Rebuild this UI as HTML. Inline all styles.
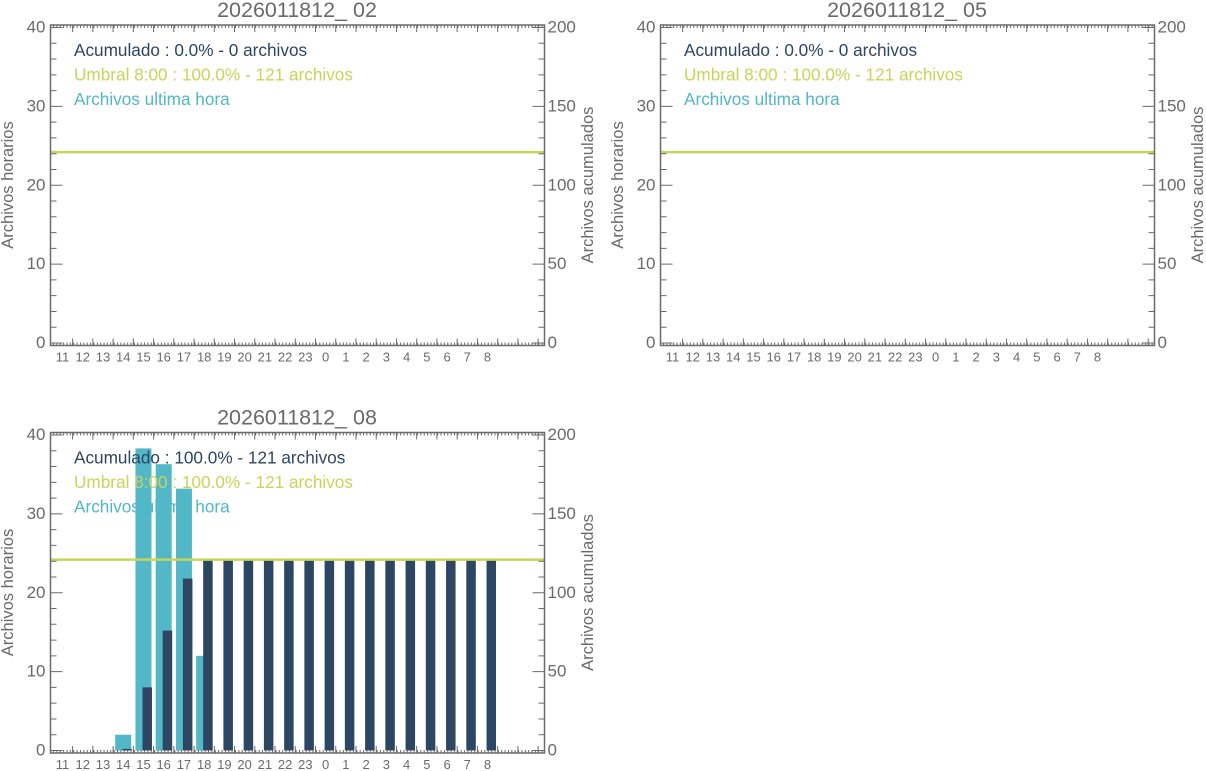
<!DOCTYPE html>
<html><head><meta charset="utf-8"><style>
html,body{margin:0;padding:0;background:#fff}
svg{display:block;font-family:"Liberation Sans",sans-serif}
</style></head><body>
<svg id="c" width="1206" height="771" viewBox="0 0 1206 771" xmlns="http://www.w3.org/2000/svg"></svg>
<script>
const hours = ["11","12","13","14","15","16","17","18","19","20","21","22","23","0","1","2","3","4","5","6","7","8"];
const titles = ["2026011812_ 02","2026011812_ 05","2026011812_ 08"];
const hourlyP1 = [0,0,0,0,0,0,0,0,0,0,0,0,0,0,0,0,0,0,0,0,0,0];
const cumulP1 = [0,0,0,0,0,0,0,0,0,0,0,0,0,0,0,0,0,0,0,0,0,0];
const hourlyP2 = [0,0,0,0,0,0,0,0,0,0,0,0,0,0,0,0,0,0,0,0,0,0];
const cumulP2 = [0,0,0,0,0,0,0,0,0,0,0,0,0,0,0,0,0,0,0,0,0,0];
const hourlyP3 = [0,0,0,2,38.3,36.3,33.2,12,0,0,0,0,0,0,0,0,0,0,0,0,0,0];
const cumulP3 = [0,0,0,1,40,76,109,121,121,121,121,121,121,121,121,121,121,121,121,121,121,121];
const threshold = 121;
const leftTicks = [0,10,20,30,40];
const rightTicks = [0,50,100,150,200];
const legends = [
 ["Acumulado : 0.0% - 0 archivos","Umbral 8:00 : 100.0% - 121 archivos","Archivos ultima hora"],
 ["Acumulado : 0.0% - 0 archivos","Umbral 8:00 : 100.0% - 121 archivos","Archivos ultima hora"],
 ["Acumulado : 100.0% - 121 archivos","Umbral 8:00 : 100.0% - 121 archivos","Archivos ultima hora"]
];
const svg=document.getElementById('c');
const NS="http://www.w3.org/2000/svg";
function mk(tag,attrs,parent){const e=document.createElementNS(NS,tag);for(const k in attrs)e.setAttribute(k,attrs[k]);(parent||svg).appendChild(e);return e;}
const GREY="#6a6a6a", CYAN="#52b7c6", DARK="#2c4664", LIME="#c8d45a";
function panel(idx,ox,oy,hourly,cumul){
 const g=mk('g',{});
 
 
 const L=ox+50.5,R=ox+544.5,T=oy+25,B=oy+345.5;
 const y0=oy+343,y40=oy+27.5;
 const yL=v=>y0-(v/40)*(y0-y40);
 const yR=v=>y0-(v/200)*(y0-y40);
 const step=20.24, x0=ox+62.5;
 const xh=i=>x0+i*step;
 const t=mk('text',{x:ox+297,y:oy+17,'text-anchor':'middle','font-size':21.5,fill:GREY},g);
 t.textContent=titles[idx];
 
 
 hourly.forEach((v,i)=>{if(v>0){const r=mk('rect',{x:xh(i)-8,y:yL(v),width:16,height:yL(0)-yL(v),fill:CYAN},g);
  
  }});
 cumul.forEach((v,i)=>{if(v>0){const r=mk('rect',{x:xh(i)-1,y:yR(v),width:9.5,height:yR(0)-yR(v),fill:DARK},g);
  
  }});
 const tl=mk('line',{x1:L,x2:R,y1:yR(threshold),y2:yR(threshold),stroke:LIME,'stroke-width':2.5},g);
 
 
 const cols=[DARK,LIME,CYAN];
 legends[idx].forEach((s,k)=>{const e=mk('text',{x:ox+74,y:oy+56+k*24.5,'font-size':17.2,fill:cols[k]},g);e.textContent=s;
  
  });
 const fr=mk('rect',{x:L,y:T,width:R-L,height:B-T,fill:'none',stroke:GREY,'stroke-width':1.5},g);
 
 
 let d='';
 for(let v=0;v<=40;v+=2){const y=yL(v);const len=(v%10==0)?12:6;d+=`M${L} ${y}h${len}M${R} ${y}h${-len}`;}
 for(let x=L+3;x<R;x+=3.37){d+=`M${x} ${B}v-3M${x} ${T}v3`;}
 for(let i=0;i<24;i++){const x=xh(i)+step*0.5;if(x<R)d+=`M${x} ${B}v-7M${x} ${T}v7`;}
 const tp=mk('path',{d:d,stroke:GREY,'stroke-width':1,fill:'none'},g);
 
 
 leftTicks.forEach(v=>{const e=mk('text',{x:L-5,y:yL(v)+5,'text-anchor':'end','font-size':17,fill:GREY},g);e.textContent=v;
  
  });
 rightTicks.forEach(v=>{const e=mk('text',{x:R+3,y:yR(v)+5,'font-size':17,fill:GREY},g);e.textContent=v;
  
  });
 hours.forEach((h,i)=>{const e=mk('text',{x:xh(i),y:B+16,'text-anchor':'middle','font-size':13,fill:GREY},g);e.textContent=h;
  
  });
 const ya=mk('text',{transform:`translate(${ox+13},${oy+185}) rotate(-90)`,'text-anchor':'middle','font-size':16.5,fill:GREY},g);
 ya.textContent='Archivos horarios';
 
 
 const yb=mk('text',{transform:`translate(${ox+593},${oy+185}) rotate(-90)`,'text-anchor':'middle','font-size':16.5,fill:GREY},g);
 yb.textContent='Archivos acumulados';
 
 
}
panel(0,0,0,hourlyP1,cumulP1);
panel(1,610,0,hourlyP2,cumulP2);
panel(2,0,407.5,hourlyP3,cumulP3);
</script>
</body></html>
